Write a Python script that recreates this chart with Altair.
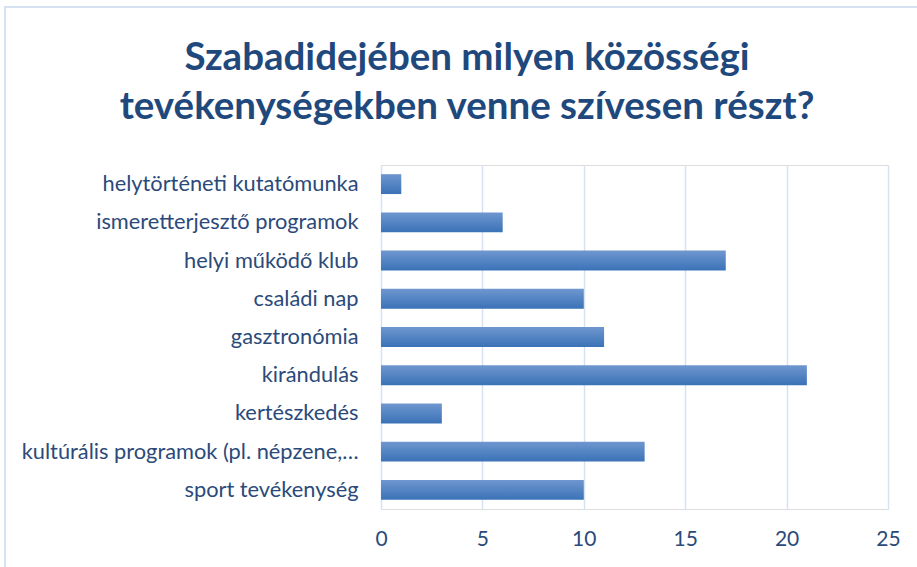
import altair as alt
import pandas as pd

title_lines = ["Szabadidejében milyen közösségi",
               "tevékenységekben venne szívesen részt?"]
categories = [
    "helytörténeti kutatómunka",
    "ismeretterjesztő programok",
    "helyi működő klub",
    "családi nap",
    "gasztronómia",
    "kirándulás",
    "kertészkedés",
    "kultúrális programok (pl. népzene,…",
    "sport tevékenység",
]
values = [1, 6, 17, 10, 11, 21, 3, 13, 10]
x_ticks = [0, 5, 10, 15, 20, 25]

df = pd.DataFrame({"cat": categories, "val": values})

FONT = "Lato"
TEXT = "#2b4a7a"
GRID = "#d6e2f2"

gradient = alt.Gradient(
    gradient="linear",
    x1=0, x2=0, y1=0, y2=1,
    stops=[alt.GradientStop(color="#6f97cf", offset=0),
           alt.GradientStop(color="#3a72b7", offset=1)],
)

bars = alt.Chart(df).mark_bar(color=gradient).encode(
    x=alt.X("val:Q",
            scale=alt.Scale(domain=[0, 25], nice=False),
            axis=alt.Axis(values=x_ticks, title=None, grid=True, gridColor=GRID,
                          gridWidth=1.5, domain=False, ticks=False,
                          labelFontSize=21, labelColor=TEXT, labelFont=FONT,
                          labelPadding=19, labelFlush=False)),
    y=alt.Y("cat:N", sort=categories,
            scale=alt.Scale(paddingInner=0.48, paddingOuter=0.24),
            axis=alt.Axis(title=None, domain=False, ticks=False,
                          labelFontSize=21.8, labelColor=TEXT, labelFont=FONT,
                          labelPadding=23, labelLimit=400)),
)

border = alt.Chart(alt.Data(values=[{}])).mark_rect(
    fill=None, stroke="#d6e2f2", strokeWidth=2
).encode(
    x=alt.value(-376), x2=alt.value(560),
    y=alt.value(-158), y2=alt.value(420),
)

title1 = alt.Chart(alt.Data(values=[{"t": title_lines[0]}])).mark_text(
    font=FONT, fontSize=38.5, fontWeight="bold", color="#1f497d",
    align="center", baseline="alphabetic"
).encode(text="t:N", x=alt.value(86), y=alt.value(-95))

title2 = alt.Chart(alt.Data(values=[{"t": title_lines[1]}])).mark_text(
    font=FONT, fontSize=38.5, fontWeight="bold", color="#1f497d",
    align="center", baseline="alphabetic"
).encode(text="t:N", x=alt.value(86), y=alt.value(-46))

chart = alt.layer(border, bars, title1, title2).properties(
    width=507, height=344,
    padding={"left": 381, "right": 29, "top": 165, "bottom": 58},
    autosize=alt.AutoSizeParams(type="none"),
).configure_view(stroke=None).configure(background="white")

chart.save("out.html", embed_options={"renderer": "svg", "actions": False})
